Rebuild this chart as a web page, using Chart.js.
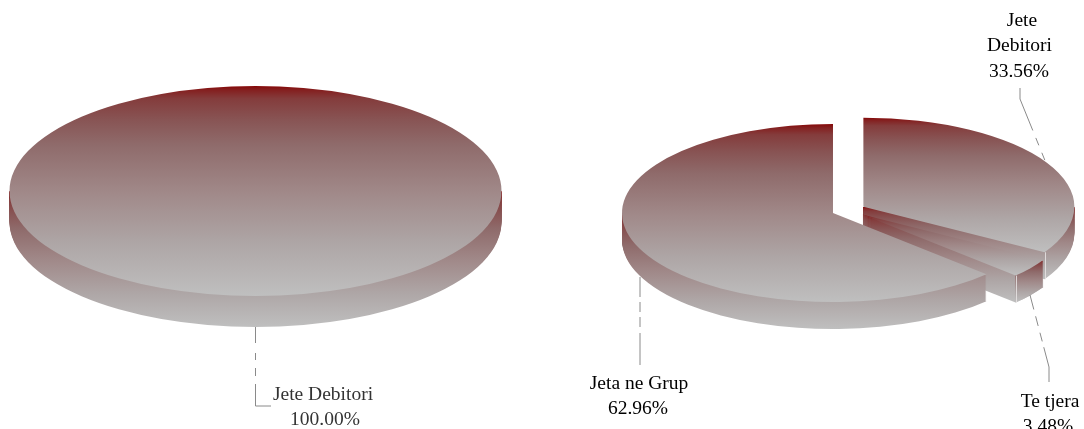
<!DOCTYPE html>
<html>
<head>
<meta charset="utf-8">
<script src="https://cdn.jsdelivr.net/npm/chart.js@4"></script>
<style>
html,body{margin:0;padding:0;background:#fff;width:1084px;height:429px;overflow:hidden}
canvas{position:absolute;left:0;top:0}
</style>
</head>
<body>
<canvas id="left" width="1084" height="429"></canvas>
<canvas id="right" width="1084" height="429"></canvas>
<script>
const leftCategories = ['Jete Debitori'];
const leftValues = [100.00];
const rightCategories = ['Jete Debitori', 'Te tjera', 'Jeta ne Grup'];
const rightValues = [33.56, 3.48, 62.96];

const STOPS = [[0,'#860808'],[0.02,'#842020'],[0.06,'#843c3c'],[0.16,'#885454'],[0.28,'#8f6b6b'],[0.5,'#a08888'],[0.75,'#aea6a6'],[1,'#bfbfbf']];
const FONT = '19.5px "Liberation Serif"';
const LINE = '#8a8a8a';

function grad(ctx, y0, y1){
  const g = ctx.createLinearGradient(0, y0, 0, y1);
  STOPS.forEach(s => g.addColorStop(s[0], s[1]));
  return g;
}

function pie3d(cfg){
  let info = [];
  return {
    id: 'pie3d',
    beforeDatasetsDraw(chart){
      const ctx = chart.ctx, k = cfg.squash, depth = cfg.depth;
      const arcs = chart.getDatasetMeta(0).data;
      info = arcs.map(a => {
        const {x, y, startAngle, endAngle} = a.getProps(['x','y','startAngle','endAngle'], true);
        const span = endAngle - startAngle;
        const mid = (startAngle + endAngle) / 2, off = (a.options.offset || 0) / 4;
        const r = cfg.radius;
        // Chart.js widens an offset arc by offset*fix and trims its ends; undo both so
        // every slice keeps the same drawn radius and its true angles
        const widen = off * (1 - Math.sin(Math.min(Math.PI, span)));
        a.outerRadius = r - widen;
        if (span < 6.28 && widen > 0) {
          const trim = (widen / Math.PI) / r / 2;
          a.startAngle = startAngle - trim;
          a.endAngle = endAngle + trim;
        }
        const ox = Math.cos(mid) * off, oy = Math.sin(mid) * off;
        let lo = 0, hi = 0;
        const pts = [startAngle, endAngle];
        for (let n = -2; n <= 8; n++){ const t = n * Math.PI / 2; if (t >= startAngle && t <= endAngle) pts.push(t); }
        pts.forEach(t => { const s = Math.sin(t) * r; lo = Math.min(lo, s); hi = Math.max(hi, s); });
        const full = span > 6.28;
        if (full) { lo = -r; hi = r; }
        return {a, x, y, r, startAngle, endAngle, ox, oy, lo, hi, full};
      });
      const squash = (s) => { ctx.translate(0, s); ctx.translate(0, info[0].y); ctx.scale(1, k); ctx.translate(0, -info[0].y); };
      const stack = (it, Y0, Y1) => {
        const base = it.a.options;
        for (let s = depth; s >= 1; s--){
          const toLocal = Y => (Y - s - it.y) / k + it.y - it.oy;
          ctx.save();
          squash(s);
          it.a.options = Object.assign({}, base, {backgroundColor: grad(ctx, toLocal(Y0), toLocal(Y1))});
          it.a.draw(ctx);
          ctx.restore();
        }
        it.a.options = base;
      };
      info.forEach(it => {
        const apexY = it.y + k * it.oy;
        const sy = Math.sin(it.startAngle), ey = Math.sin(it.endAngle);
        ctx.save();
        ctx.beginPath();
        ctx.rect(0, apexY + 0.5, chart.width, chart.height);
        ctx.clip();
        stack(it, apexY, apexY + k * it.hi + depth);
        if (!it.full && sy > 0 && ey > 0){
          const xa = it.x + it.ox + Math.cos(it.startAngle) * it.r;
          const xb = it.x + it.ox + Math.cos(it.endAngle) * it.r;
          ctx.save();
          ctx.beginPath();
          ctx.rect(Math.min(xa, xb), 0, Math.abs(xa - xb), chart.height);
          ctx.clip();
          stack(it, apexY + k * Math.min(sy, ey) * it.r, apexY + k * it.hi + depth);
          ctx.restore();
        }
        ctx.restore();
      });
      info.forEach(it => {
        it.a.options = Object.assign({}, it.a.options, {backgroundColor: grad(ctx, it.y + it.lo, it.y + it.hi)});
      });
      ctx.save();
      squash(0);
    },
    afterDatasetsDraw(chart){
      const ctx = chart.ctx;
      ctx.restore();
      ctx.save();
      ctx.strokeStyle = 'rgba(232,228,228,0.85)';
      ctx.lineWidth = 1;
      (cfg.lightEdges || []).forEach(i => {
        const it = info[i];
        const ex = Math.round(it.x + it.ox + Math.cos(it.endAngle) * it.r) + 0.5;
        const ey = it.y + cfg.squash * (it.oy + Math.sin(it.endAngle) * it.r);
        ctx.beginPath();
        ctx.moveTo(ex, ey);
        ctx.lineTo(ex, ey + cfg.depth);
        ctx.stroke();
      });
      ctx.restore();
    },
    afterDraw(chart){
      const ctx = chart.ctx;
      ctx.save();
      ctx.strokeStyle = LINE;
      ctx.lineWidth = 1;
      cfg.leaders.forEach(l => {
        ctx.beginPath();
        ctx.setLineDash(l.dash);
        l.pts.forEach((p, i) => i ? ctx.lineTo(p[0], p[1]) : ctx.moveTo(p[0], p[1]));
        ctx.stroke();
      });
      ctx.setLineDash([]);
      ctx.font = FONT;
      ctx.fillStyle = cfg.textColor;
      ctx.textAlign = 'center';
      ctx.textBaseline = 'alphabetic';
      cfg.texts.forEach(t => ctx.fillText(t[0], t[1], t[2]));
      ctx.restore();
    }
  };
}

const pct = v => v.toFixed(2) + '%';

function makeChart(id, labels, values, radius, offset, padding, cfg){
  return new Chart(document.getElementById(id), {
    type: 'pie',
    data: {labels, datasets: [{data: values, offset, borderWidth: 0, clip: false, backgroundColor: '#a08080'}]},
    options: {
      responsive: false,
      animation: false,
      events: [],
      devicePixelRatio: 1,
      radius,
      layout: {padding},
      plugins: {legend: {display: false}, tooltip: {enabled: false}}
    },
    plugins: [pie3d(cfg)]
  });
}

makeChart('left', leftCategories, leftValues, 246, 0,
  {left: 0, right: 573, top: 0, bottom: 47},
  {radius: 246, squash: 105 / 246, depth: 31, textColor: '#333',
   leaders: [{pts: [[255.5,327],[255.5,406],[271,406]], dash: [16,10,7,8,8,8,60]}],
   texts: [[leftCategories[0], 323, 400], [pct(leftValues[0]), 325, 425]]});

makeChart('right', rightCategories, rightValues, 194, 68,
  {left: 613.2, right: 0, top: 0, bottom: 8.6},
  {radius: 211, squash: 89 / 211, depth: 27, textColor: '#000', lightEdges: [0, 1],
   leaders: [
     {pts: [[1020,88],[1020,99],[1046,163]], dash: [45,8,8,8,8,8,8]},
     {pts: [[640,277],[640,365]], dash: [20,5,10,5,10,6,40]},
     {pts: [[1030,295],[1049,367],[1049,382]], dash: [15,7,10,7,9,6,40]}
   ],
   texts: [
     ['Jete', 1022, 26], ['Debitori', 1019.5, 51], [pct(rightValues[0]), 1019, 77],
     [rightCategories[2], 639, 389], [pct(rightValues[2]), 638, 414],
     [rightCategories[1], 1050, 406.5], [pct(rightValues[1]), 1048, 431.5]
   ]});
</script>
</body>
</html>
